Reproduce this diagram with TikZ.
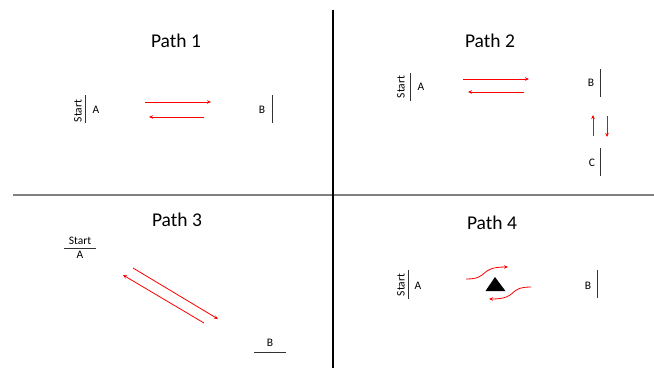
\documentclass[tikz,border=0pt]{standalone}
\usepackage{fontspec}
\setmainfont{Carlito}
\usetikzlibrary{arrows.meta}
\begin{document}
\begin{tikzpicture}[x=1pt,y=-1pt,
  title/.style={font=\fontsize{19.5}{22}\selectfont, inner sep=0pt},
  lbl/.style={font=\fontsize{11.5}{13}\selectfont, inner sep=0pt},
  bar/.style={draw=black!80, line width=1pt},
  redarrow/.style={draw=red, line width=0.8pt, -{Stealth[length=4pt,width=3.5pt]}},
]
\useasboundingbox (0,0) rectangle (654,368);
% dividers
\draw[line width=1.8pt, draw=black!50] (13,195) -- (654,195);
\draw[line width=1.2pt] (333,10) -- (333,368);

% ---------- Path 1 ----------
\node[title] (t1) at (176,41) {Path 1};
\node[lbl, rotate=90] (s1) at (78,111) {Start};
\draw[bar] (85,95) -- (85,123);
\node[lbl] (a1) at (96,110) {A};
\node[lbl] (b1) at (262,110) {B};
\draw[bar] (272,95) -- (272,123);
\coordinate (p1a) at (145,102); \coordinate (p1b) at (211,102);
\coordinate (p1c) at (204,117); \coordinate (p1d) at (149,117);
\draw[redarrow] (p1a) -- (p1b);
\draw[redarrow] (p1c) -- (p1d);

% ---------- Path 2 ----------
\node[title] (t2) at (490,41) {Path 2};
\node[lbl, rotate=90] (s2) at (401,87) {Start};
\draw[bar] (410,73) -- (410,101);
\node[lbl] (a2) at (421,87) {A};
\node[lbl] (b2) at (591,83) {B};
\draw[bar] (600,69) -- (600,97);
\node[lbl] (c2) at (592,163) {C};
\draw[bar] (600,148) -- (600,176);
\coordinate (p2a) at (463,79); \coordinate (p2b) at (529,79);
\coordinate (p2c) at (524,92); \coordinate (p2d) at (468,92);
\draw[redarrow] (p2a) -- (p2b);
\draw[redarrow] (p2c) -- (p2d);
\coordinate (p2e) at (593,136); \coordinate (p2f) at (593,115);
\coordinate (p2g) at (607,116); \coordinate (p2h) at (607,137);
\draw[redarrow] (p2e) -- (p2f);
\draw[redarrow] (p2g) -- (p2h);

% ---------- Path 3 ----------
\node[title] (t3) at (177,220) {Path 3};
\node[lbl] (s3) at (80,241) {Start};
\draw[bar] (64,248) -- (96,248);
\node[lbl] (a3) at (80,255) {A};
\node[lbl] (b3) at (270,343) {B};
\draw[bar] (254,352) -- (286,352);
\coordinate (p3a) at (133,268); \coordinate (p3b) at (218,319);
\coordinate (p3c) at (204,323); \coordinate (p3d) at (123,275);
\draw[redarrow] (p3a) -- (p3b);
\draw[redarrow] (p3c) -- (p3d);

% ---------- Path 4 ----------
\node[title] (t4) at (492,223) {Path 4};
\node[lbl, rotate=90] (s4) at (401,285) {Start};
\draw[bar] (408,270) -- (408,299);
\node[lbl] (a4) at (418,286) {A};
\node[lbl] (b4) at (588,286) {B};
\draw[bar] (597,270) -- (597,298);
\coordinate (tapex) at (495,277);
\fill[black] (tapex) -- (505.5,291) -- (485.5,291) -- cycle;
\coordinate (p4a) at (466,279); \coordinate (p4b) at (508,267);
\coordinate (p4c) at (531,287); \coordinate (p4d) at (489,299);
\draw[redarrow] (p4a) .. controls (490,279) and (478,267) .. (p4b);
\draw[redarrow] (p4c) .. controls (507,287) and (519,299) .. (p4d);
\end{tikzpicture}
\end{document}
